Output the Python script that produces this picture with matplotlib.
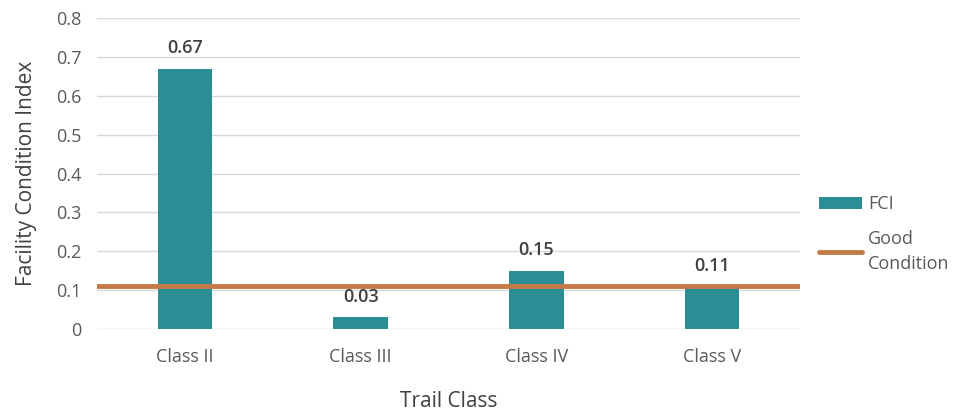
import matplotlib.pyplot as plt
from matplotlib.patches import Patch
from matplotlib.lines import Line2D

plt.rcParams['font.family'] = ['Open Sans', 'DejaVu Sans']

classes = ["Class II", "Class III", "Class IV", "Class V"]
fci = [0.67, 0.03, 0.15, 0.11]
good_condition = 0.11
yticks = [0, 0.1, 0.2, 0.3, 0.4, 0.5, 0.6, 0.7, 0.8]

teal = "#2A8E94"
orange = "#C47A45"
grey = "#595959"

fig = plt.figure(figsize=(9.54, 4.11), dpi=100)
ax = fig.add_axes([0.1017, 0.1995, 0.7369, 0.7567])

x = list(range(len(classes)))
bars = ax.bar(x, fci, width=0.31, color=teal, zorder=2)
ax.axhline(good_condition, color=orange, linewidth=3.5, zorder=3,
           solid_capstyle="round")

# value labels above each bar
for b, v in zip(bars, fci):
    ax.text(b.get_x() + b.get_width() / 2, v + 0.03, f"{v:.2f}",
            ha="center", va="bottom", fontsize=13, fontweight="semibold",
            color="#404040", zorder=4)

ax.set_xlim(-0.5, len(classes) - 0.5)
ax.set_ylim(0, 0.8)
ax.set_yticks(yticks)
ax.set_yticklabels(["0" if t == 0 else f"{t:.1f}" for t in yticks])
ax.set_xticks(x)
ax.set_xticklabels(classes)
ax.tick_params(axis="both", length=0, labelsize=13, colors=grey)
ax.tick_params(axis="x", pad=14)
ax.tick_params(axis="y", pad=11)
ax.grid(axis="y", color="#D9D9D9", linewidth=1, zorder=0)
for s in ax.spines.values():
    s.set_visible(False)

ax.set_xlabel("Trail Class", fontsize=15, color="#404040", labelpad=18)
ax.set_ylabel("Facility Condition Index", fontsize=15, color="#404040",
              labelpad=14)

handles = [Patch(facecolor=teal, edgecolor="none"),
           Line2D([0], [0], color=orange, linewidth=3.5, solid_capstyle="round")]
leg = fig.legend(handles, ["FCI", "Good\nCondition"], loc="center left",
                 bbox_to_anchor=(0.858, 0.43), frameon=False, fontsize=13,
                 labelcolor=grey, handlelength=2.4, handleheight=0.7,
                 handletextpad=0.35, labelspacing=0.9, borderpad=0,
                 borderaxespad=0)
for t in leg.get_texts():
    t.set_linespacing(1.55)

fig.savefig("out.png", dpi=100)
